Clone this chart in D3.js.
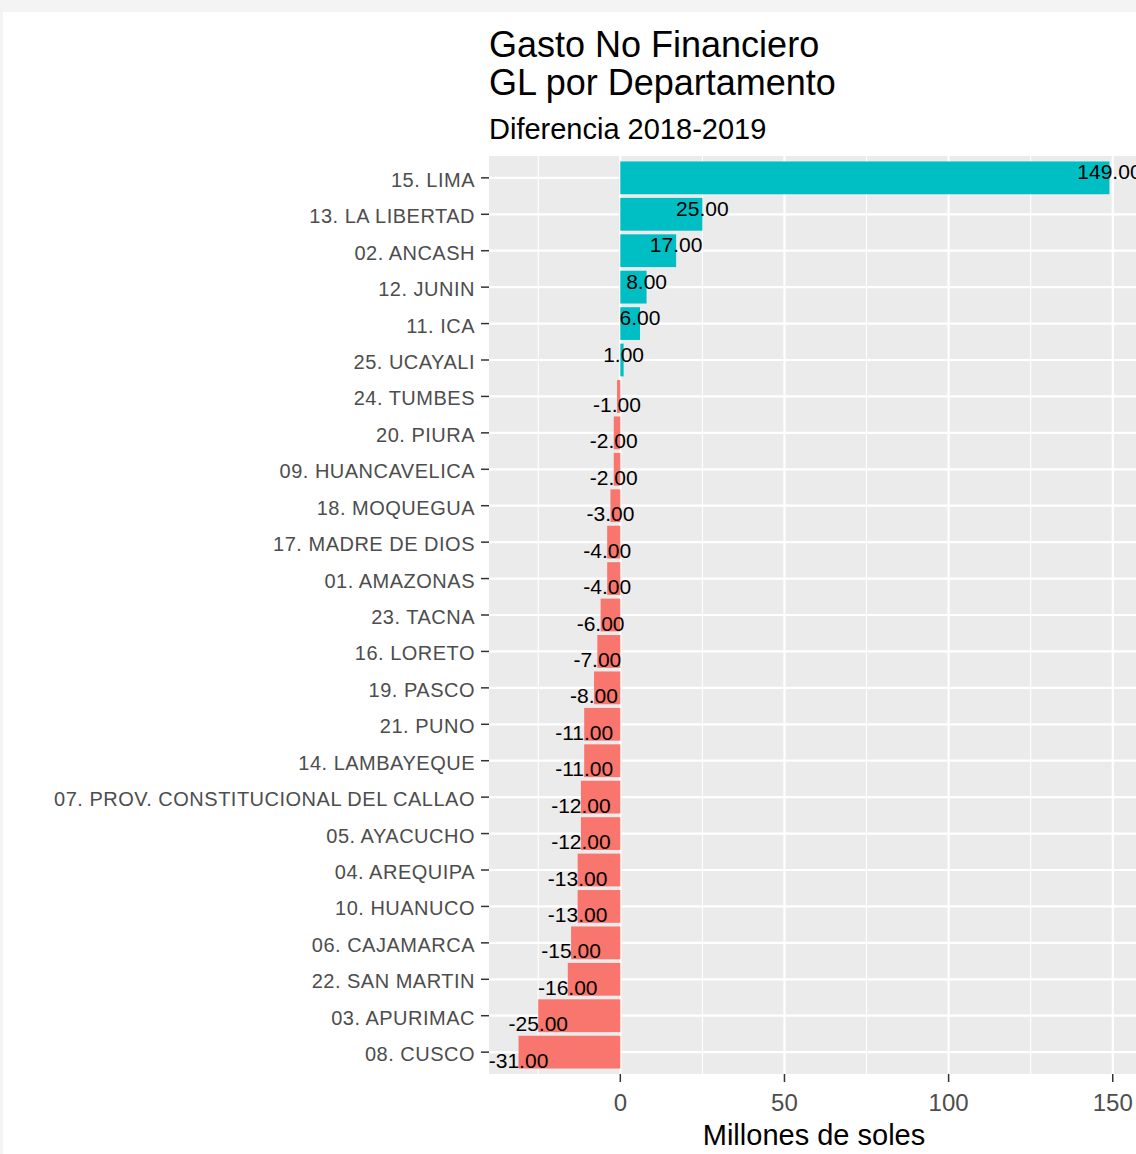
<!DOCTYPE html>
<html>
<head>
<meta charset="utf-8">
<script src="https://cdn.jsdelivr.net/npm/d3@7"></script>
<style>
  body { margin: 0; background: #f4f4f4; }
  svg { display: block; font-family: "Liberation Sans", Arial, sans-serif; }
</style>
</head>
<body>
<svg id="chart"></svg>
<script>
// departamentos, de mayor a menor diferencia
var departamentos = [
  "15. LIMA", "13. LA LIBERTAD", "02. ANCASH", "12. JUNIN", "11. ICA",
  "25. UCAYALI", "24. TUMBES", "20. PIURA", "09. HUANCAVELICA", "18. MOQUEGUA",
  "17. MADRE DE DIOS", "01. AMAZONAS", "23. TACNA", "16. LORETO", "19. PASCO",
  "21. PUNO", "14. LAMBAYEQUE", "07. PROV. CONSTITUCIONAL DEL CALLAO", "05. AYACUCHO", "04. AREQUIPA",
  "10. HUANUCO", "06. CAJAMARCA", "22. SAN MARTIN", "03. APURIMAC", "08. CUSCO"
];
var diferencia = [
  149, 25, 17, 8, 6,
  1, -1, -2, -2, -3,
  -4, -4, -6, -7, -8,
  -11, -11, -12, -12, -13,
  -13, -15, -16, -25, -31
];
var xTicks = [0, 50, 100, 150];
var xMinor = [-25, 25, 75, 125];

var data = departamentos.map(function(d, i) {
  return { dep: d, valor: diferencia[i] };
});

var width = 1136;
var height = 1154;

var svg = d3.select("#chart")
            .attr("width", width)
            .attr("height", height);

// fondo blanco de la imagen (franja gris arriba y a la izquierda)
svg.append("rect")
   .attr("x", 3).attr("y", 12)
   .attr("width", width - 3).attr("height", height - 12)
   .attr("fill", "white");

var panel = { left: 489, right: 1139, top: 156, bottom: 1074 };

// expansion 5% como ggplot
var minV = d3.min(diferencia), maxV = d3.max(diferencia);
var pad = (maxV - minV) * 0.05;

var x = d3.scaleLinear()
          .domain([minV - pad, maxV + pad])
          .range([panel.left, panel.right]);

var y = d3.scaleBand()
          .domain(departamentos)
          .range([panel.top, panel.bottom])
          .paddingInner(0.1)
          .paddingOuter(0.15);

svg.append("rect")
   .attr("x", panel.left).attr("y", panel.top)
   .attr("width", panel.right - panel.left)
   .attr("height", panel.bottom - panel.top)
   .attr("fill", "#EBEBEB");

// rejilla
svg.selectAll(".minor")
   .data(xMinor)
   .enter()
   .append("line")
   .attr("x1", function(d) { return x(d); })
   .attr("x2", function(d) { return x(d); })
   .attr("y1", panel.top).attr("y2", panel.bottom)
   .attr("stroke", "white")
   .attr("stroke-width", 1.1);

svg.selectAll(".major")
   .data(xTicks)
   .enter()
   .append("line")
   .attr("x1", function(d) { return x(d); })
   .attr("x2", function(d) { return x(d); })
   .attr("y1", panel.top).attr("y2", panel.bottom)
   .attr("stroke", "white")
   .attr("stroke-width", 2.2);

svg.selectAll(".hgrid")
   .data(departamentos)
   .enter()
   .append("line")
   .attr("x1", panel.left).attr("x2", panel.right)
   .attr("y1", function(d) { return y(d) + y.bandwidth() / 2; })
   .attr("y2", function(d) { return y(d) + y.bandwidth() / 2; })
   .attr("stroke", "white")
   .attr("stroke-width", 2.2);

// barras
svg.selectAll(".bar")
   .data(data)
   .enter()
   .append("rect")
   .attr("x", function(d) { return x(Math.min(0, d.valor)); })
   .attr("y", function(d) { return y(d.dep); })
   .attr("width", function(d) { return Math.abs(x(d.valor) - x(0)); })
   .attr("height", y.bandwidth())
   .attr("fill", function(d) {
     return d.valor > 0 ? "#00BFC4" : "#F8766D";
   });

// etiquetas de valor
svg.selectAll(".lab")
   .data(data)
   .enter()
   .append("text")
   .text(function(d) { return d.valor.toFixed(2); })
   .attr("x", function(d) { return x(d.valor); })
   .attr("y", function(d) {
     var c = y(d.dep) + y.bandwidth() / 2;
     return d.valor > 0 ? c - 6 : c + 8;
   })
   .attr("dominant-baseline", "central")
   .attr("text-anchor", "middle")
   .attr("font-size", 21)
   .attr("fill", "black");

// eje y
var yAxis = svg.append("g");
yAxis.selectAll("line")
     .data(departamentos)
     .enter()
     .append("line")
     .attr("x1", panel.left - 8).attr("x2", panel.left)
     .attr("y1", function(d) { return y(d) + y.bandwidth() / 2; })
     .attr("y2", function(d) { return y(d) + y.bandwidth() / 2; })
     .attr("stroke", "#333333")
     .attr("stroke-width", 1.5);
yAxis.selectAll("text")
     .data(departamentos)
     .enter()
     .append("text")
     .text(function(d) { return d; })
     .attr("x", panel.left - 14)
     .attr("y", function(d) { return y(d) + y.bandwidth() / 2 + 2; })
     .attr("dominant-baseline", "central")
     .attr("text-anchor", "end")
     .attr("font-size", 20)
     .attr("letter-spacing", 0.5)
     .attr("fill", "#4D4D4D");

// eje x
var xAxis = svg.append("g");
xAxis.selectAll("line")
     .data(xTicks)
     .enter()
     .append("line")
     .attr("x1", function(d) { return x(d); })
     .attr("x2", function(d) { return x(d); })
     .attr("y1", panel.bottom).attr("y2", panel.bottom + 8)
     .attr("stroke", "#333333")
     .attr("stroke-width", 1.5);
xAxis.selectAll("text")
     .data(xTicks)
     .enter()
     .append("text")
     .text(function(d) { return d; })
     .attr("x", function(d) { return x(d); })
     .attr("y", panel.bottom + 37)
     .attr("text-anchor", "middle")
     .attr("font-size", 24)
     .attr("fill", "#4D4D4D");

svg.append("text")
   .text("Millones de soles")
   .attr("x", (panel.left + panel.right) / 2)
   .attr("y", 1145)
   .attr("text-anchor", "middle")
   .attr("font-size", 29)
   .attr("fill", "black");

// titulos
svg.append("text")
   .text("Gasto No Financiero")
   .attr("x", panel.left).attr("y", 57)
   .attr("font-size", 36)
   .attr("fill", "black");
svg.append("text")
   .text("GL por Departamento")
   .attr("x", panel.left).attr("y", 95)
   .attr("font-size", 36)
   .attr("fill", "black");
svg.append("text")
   .text("Diferencia 2018-2019")
   .attr("x", panel.left).attr("y", 139)
   .attr("font-size", 29)
   .attr("fill", "black");
</script>
</body>
</html>
